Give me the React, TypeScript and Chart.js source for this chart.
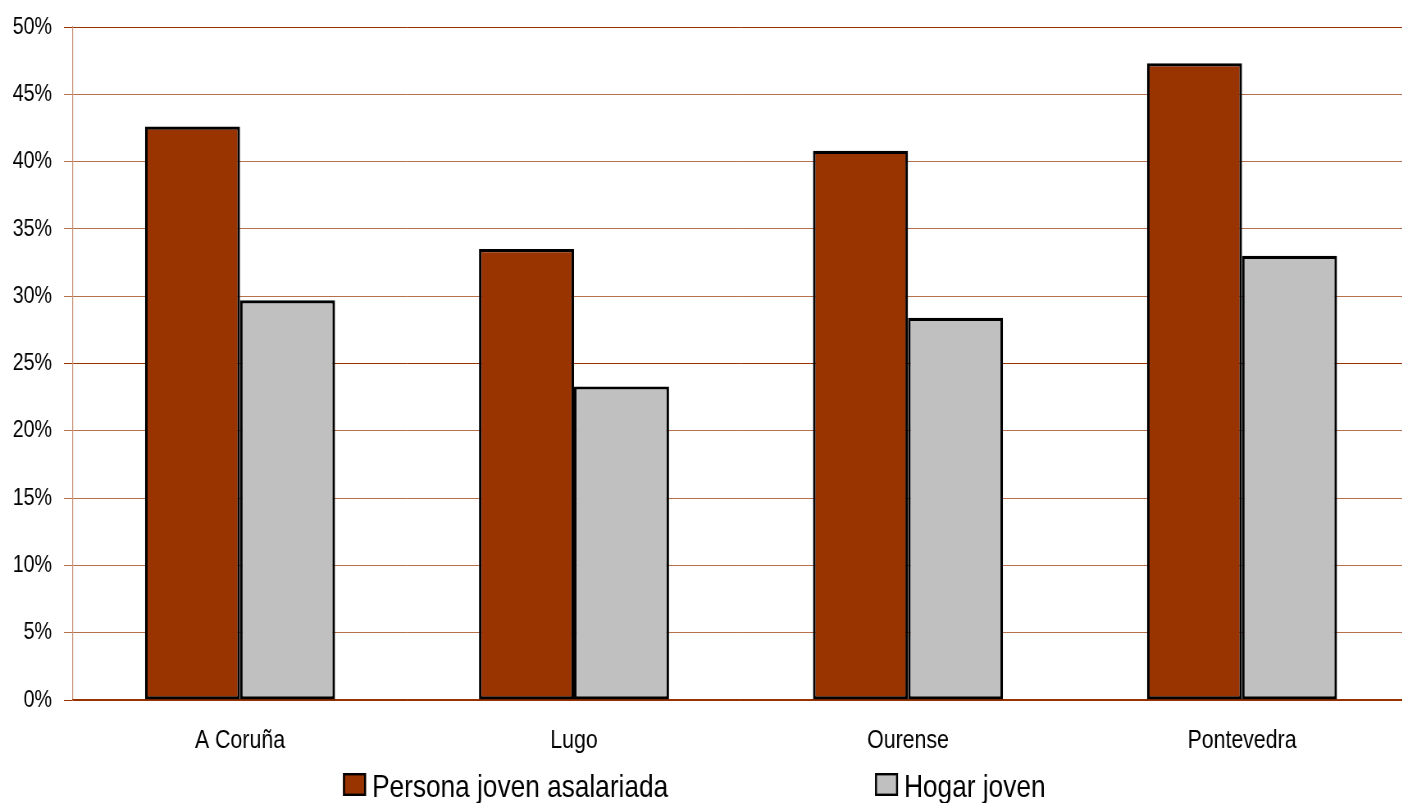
import React, { useEffect, useRef } from "react";
import { Chart, registerables } from "chart.js";

Chart.register(...registerables);

const categories = ["A Coruña", "Lugo", "Ourense", "Pontevedra"];
const personaJoven = [42.6, 33.5, 40.8, 47.3];
const hogarJoven = [29.7, 23.3, 28.4, 33.0];
const yTicks = [0, 5, 10, 15, 20, 25, 30, 35, 40, 45, 50];
const seriesNames = ["Persona joven asalariada", "Hogar joven"];
const seriesColors = ["#993300", "#C0C0C0"];

const FONT = '"Liberation Sans", Arial, Helvetica, sans-serif';
// the reference uses a narrow sans font: the canvas is drawn wider and squeezed horizontally
const SX = 0.82;
const px = (v: number) => v / SX;

const legendPlugin = {
  id: "customLegend",
  afterDraw(chart: any) {
    const ctx = chart.ctx;
    const xs = [px(343), px(875)];
    const y = 773;
    ctx.save();
    chart.data.datasets.forEach((ds: any, i: number) => {
      ctx.fillStyle = ds.backgroundColor;
      ctx.fillRect(xs[i], y, px(23), 23);
      ctx.strokeStyle = "#000";
      ctx.lineWidth = 2.4;
      ctx.strokeRect(xs[i] + 1.2, y + 1.2, px(23) - 2.4, 23 - 2.4);
      ctx.fillStyle = "#000";
      ctx.font = `32px ${FONT}`;
      ctx.textBaseline = "alphabetic";
      ctx.textAlign = "left";
      ctx.fillText(ds.label, xs[i] + px(29), 797);
    });
    ctx.restore();
  },
};

export default function App() {
  const ref = useRef<HTMLCanvasElement>(null);
  useEffect(() => {
    document.body.style.margin = "0";
    document.body.style.overflow = "hidden";
    const chart = new Chart(ref.current!, {
      type: "bar",
      data: {
        labels: categories,
        datasets: [
          {
            label: seriesNames[0],
            data: personaJoven,
            backgroundColor: seriesColors[0],
            borderColor: "#000",
            borderWidth: 3.2,
            borderSkipped: false,
          },
          {
            label: seriesNames[1],
            data: hogarJoven,
            backgroundColor: seriesColors[1],
            borderColor: "#000",
            borderWidth: 3.2,
            borderSkipped: false,
          },
        ],
      },
      options: {
        animation: false,
        responsive: true,
        maintainAspectRatio: false,
        layout: { padding: { top: 27, left: 0, right: 0, bottom: 0 } },
        datasets: { bar: { categoryPercentage: 0.569, barPercentage: 1.0 } },
        plugins: { legend: { display: false }, tooltip: { enabled: false } },
        scales: {
          x: {
            grid: { display: false, drawTicks: false },
            border: { color: "#993300", width: 1.2 },
            ticks: { color: "#000", font: { family: FONT, size: 26 }, padding: 25, maxRotation: 0 },
            afterFit: (s: any) => { s.height = 103; },
          },
          y: {
            min: 0,
            max: 50,
            afterBuildTicks: (s: any) => { s.ticks = yTicks.map((v) => ({ value: v })); },
            grid: {
              color: (c: any) => (c.tick && c.tick.value % 25 === 0 ? "#993300" : "rgba(153,51,0,0.7)"),
              tickLength: px(9),
              lineWidth: 1,
            },
            border: { color: "rgba(153,51,0,0.55)", width: 1.2 },
            ticks: {
              color: "#000",
              font: { family: FONT, size: 24 },
              padding: px(12),
              callback: (v: any) => `${v}%`,
            },
            afterFit: (s: any) => {
              s.width = px(73);
              s.paddingTop = 0;
              s.paddingBottom = 0;
            },
          },
        },
      },
      plugins: [legendPlugin],
    });
    return () => chart.destroy();
  }, []);
  return (
    <div style={{ position: "fixed", left: 0, top: 0, width: 1402, height: 803, overflow: "hidden" }}>
      <div
        style={{
          position: "absolute",
          left: 0,
          top: 0,
          width: px(1409),
          height: 803,
          transform: `scaleX(${SX})`,
          transformOrigin: "0 0",
        }}
      >
        <canvas ref={ref} />
      </div>
    </div>
  );
}
